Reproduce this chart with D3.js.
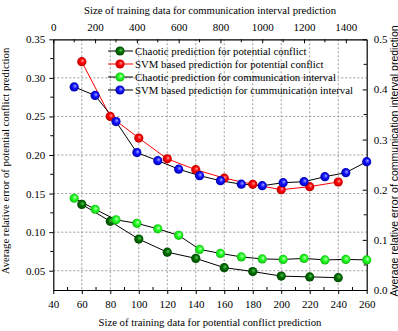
<!DOCTYPE html>
<html>
<head>
<meta charset="utf-8">
<script src="https://cdn.jsdelivr.net/npm/d3@7"></script>
<style>
  body { margin: 0; background: #fff; }
  svg { display: block; }
</style>
</head>
<body>
<div id="chart"></div>
<script>
// potential conflict series (bottom / left axes)
const potX = [60, 80, 100, 120, 140, 160, 180, 200, 220, 240];
const chaoticPot = [0.136, 0.114, 0.091, 0.074, 0.066, 0.054, 0.049, 0.043, 0.042, 0.041];
const svmPot = [0.321, 0.250, 0.222, 0.195, 0.181, 0.170, 0.162, 0.155, 0.159, 0.165];

// communication interval series (top / right axes)
const commX = [100, 200, 300, 400, 500, 600, 700, 800, 900, 1000, 1100, 1200, 1300, 1400, 1500];
const chaoticComm = [0.183, 0.161, 0.140, 0.133, 0.122, 0.109, 0.081, 0.073, 0.066, 0.062, 0.061, 0.063, 0.060, 0.061, 0.060];
const svmComm = [0.405, 0.388, 0.336, 0.274, 0.258, 0.241, 0.228, 0.218, 0.211, 0.208, 0.214, 0.216, 0.226, 0.234, 0.256];

const bottomTicks = [40, 60, 80, 100, 120, 140, 160, 180, 200, 220, 240, 260];
const topTicks = [0, 200, 400, 600, 800, 1000, 1200, 1400];
const leftTicks = [0.05, 0.10, 0.15, 0.20, 0.25, 0.30, 0.35];
const rightTicks = [0.0, 0.1, 0.2, 0.3, 0.4, 0.5];

const legendNames = [
  "Chaotic prediction for potential conflict",
  "SVM based prediction for potential conflict",
  "Chaotic prediction for communication interval",
  "SVM based prediction for cummunication interval"
];

const width = 398, height = 331;
const L = 53.3, R = 366.7, T = 39.3, B = 290;
const serif = "Liberation Serif";
const sans = "Liberation Sans";

const x = d3.scaleLinear().domain([40, 260]).range([L, R]);
const xTop = d3.scaleLinear().domain([0, 1500]).range([L, R]);
const y = d3.scaleLinear().domain([0.025, 0.35]).range([B, T]);
const yRight = d3.scaleLinear().domain([0, 0.5]).range([B, T]);

const svg = d3.select("#chart").append("svg")
    .attr("width", width)
    .attr("height", height);

// ball-like marker gradients
const defs = svg.append("defs");
const ballColors = {dg: ["#5fc45f", "#007000", "#004000"], rd: ["#ff9a9a", "#ff0000", "#b00000"],
                    lg: ["#c8ffc8", "#22ff22", "#10b010"], bl: ["#a8a8ff", "#1010ff", "#0000a0"]};
Object.entries(ballColors).forEach(([k, c]) => {
    const g = defs.append("radialGradient").attr("id", "ball-" + k)
        .attr("cx", "50%").attr("cy", "50%").attr("r", "55%")
        .attr("fx", "62%").attr("fy", "38%");
    g.append("stop").attr("offset", "0%").attr("stop-color", c[0]);
    g.append("stop").attr("offset", "45%").attr("stop-color", c[1]);
    g.append("stop").attr("offset", "100%").attr("stop-color", c[2]);
});

// grid
const grid = svg.append("g")
    .attr("stroke", "#9a9a9a")
    .attr("stroke-width", 1)
    .attr("stroke-dasharray", "2,2");
grid.selectAll("line.v")
    .data(bottomTicks.filter(d => d > 40 && d < 260))
    .enter().append("line")
    .attr("x1", d => x(d)).attr("x2", d => x(d))
    .attr("y1", T).attr("y2", B);
grid.selectAll("line.h")
    .data(leftTicks.filter(d => d < 0.35))
    .enter().append("line")
    .attr("x1", L).attr("x2", R)
    .attr("y1", d => y(d)).attr("y2", d => y(d));

// axes
const bottomAxis = d3.axisBottom(x).tickValues(bottomTicks).tickFormat(d3.format("d")).tickSize(4).tickSizeOuter(0);
const topAxis = d3.axisTop(xTop).tickValues(topTicks).tickFormat(d3.format("d")).tickSize(-4).tickSizeOuter(0);
const leftAxis = d3.axisLeft(y).tickValues(leftTicks).tickFormat(d3.format(".2f")).tickSize(4).tickSizeOuter(0);
const rightAxis = d3.axisRight(yRight).tickValues(rightTicks).tickFormat(d3.format(".1f")).tickSize(-4).tickSizeOuter(0);

function styleAxis(g) {
    g.attr("font-family", serif).attr("font-size", 11);
    g.select(".domain").attr("stroke", "#000").attr("stroke-width", 1.2);
    g.selectAll(".tick line").attr("stroke", "#000").attr("stroke-width", 1);
    g.selectAll(".tick text").attr("fill", "#000");
}

const gB = svg.append("g").attr("transform", `translate(0,${B})`).call(bottomAxis).call(styleAxis);
gB.selectAll(".tick text").attr("y", 10);
const gT = svg.append("g").attr("transform", `translate(0,${T})`).call(topAxis).call(styleAxis);
gT.selectAll(".tick text").attr("y", -8);
const gL = svg.append("g").attr("transform", `translate(${L},0)`).call(leftAxis).call(styleAxis);
gL.selectAll(".tick text").attr("x", -8);
const gR = svg.append("g").attr("transform", `translate(${R},0)`).call(rightAxis).call(styleAxis);
gR.selectAll(".tick text").attr("x", 7);

// minor ticks
const minor = svg.append("g").attr("stroke", "#000").attr("stroke-width", 1);
minor.selectAll("line.mb").data(d3.range(50, 260, 20)).enter().append("line")
    .attr("x1", d => x(d)).attr("x2", d => x(d)).attr("y1", B).attr("y2", B - 3);
minor.selectAll("line.mt").data(d3.range(100, 1500, 200)).enter().append("line")
    .attr("x1", d => xTop(d)).attr("x2", d => xTop(d)).attr("y1", T).attr("y2", T + 3);
minor.selectAll("line.ml").data([0.075, 0.125, 0.175, 0.225, 0.275, 0.325]).enter().append("line")
    .attr("x1", L).attr("x2", L - 3).attr("y1", d => y(d)).attr("y2", d => y(d));
minor.selectAll("line.mr").data([0.05, 0.15, 0.25, 0.35, 0.45]).enter().append("line")
    .attr("x1", R).attr("x2", R - 3).attr("y1", d => yRight(d)).attr("y2", d => yRight(d));

// series
const series = [
    {xs: potX, ys: chaoticPot, sx: x, sy: y, line: "#000", ball: "dg"},
    {xs: potX, ys: svmPot, sx: x, sy: y, line: "#ff0000", ball: "rd"},
    {xs: commX, ys: chaoticComm, sx: xTop, sy: yRight, line: "#000", ball: "lg"},
    {xs: commX, ys: svmComm, sx: xTop, sy: yRight, line: "#000", ball: "bl"}
];

series.forEach(s => {
    const pts = s.xs.map((v, i) => [v, s.ys[i]]);
    svg.append("path")
        .datum(pts)
        .attr("fill", "none")
        .attr("stroke", s.line)
        .attr("stroke-width", 1)
        .attr("d", d3.line().x(d => s.sx(d[0])).y(d => s.sy(d[1])));
});
series.forEach(s => {
    const pts = s.xs.map((v, i) => [v, s.ys[i]]);
    svg.append("g").selectAll("circle")
        .data(pts)
        .enter().append("circle")
        .attr("cx", d => s.sx(d[0]))
        .attr("cy", d => s.sy(d[1]))
        .attr("r", 4.6)
        .attr("fill", `url(#ball-${s.ball})`);
});

// legend
const legend = svg.append("g").attr("transform", "translate(108,51)")
    .attr("font-family", serif).attr("font-size", 10.8);
series.forEach((s, i) => {
    const row = legend.append("g").attr("transform", `translate(0,${i * 13})`);
    row.append("line").attr("x1", 0).attr("x2", 25).attr("y1", 0).attr("y2", 0)
        .attr("stroke", s.line).attr("stroke-width", 1);
    row.append("circle").attr("cx", 12).attr("cy", 0).attr("r", 4.6)
        .attr("fill", `url(#ball-${s.ball})`);
    row.append("text").attr("x", 27).attr("y", 0).attr("dy", "0.35em")
        .text(legendNames[i]);
});

// titles
const titles = svg.append("g").attr("font-family", serif).attr("font-size", 10.7);
titles.append("text")
    .attr("x", (L + R) / 2).attr("y", 14)
    .attr("text-anchor", "middle")
    .text("Size of training data for communication interval prediction");
titles.append("text")
    .attr("x", (L + R) / 2).attr("y", 326)
    .attr("text-anchor", "middle")
    .text("Size of training data for potential conflict prediction");
titles.append("text")
    .attr("transform", "translate(8.5,161) rotate(-90)")
    .attr("text-anchor", "middle")
    .text("Average relative error of potential conflict prediction");
svg.append("text")
    .attr("transform", "translate(397.5,161) rotate(-90)")
    .attr("text-anchor", "middle")
    .attr("font-family", sans).attr("font-size", 10.5)
    .text("Average relative error of communication interval prediction");
</script>
</body>
</html>
